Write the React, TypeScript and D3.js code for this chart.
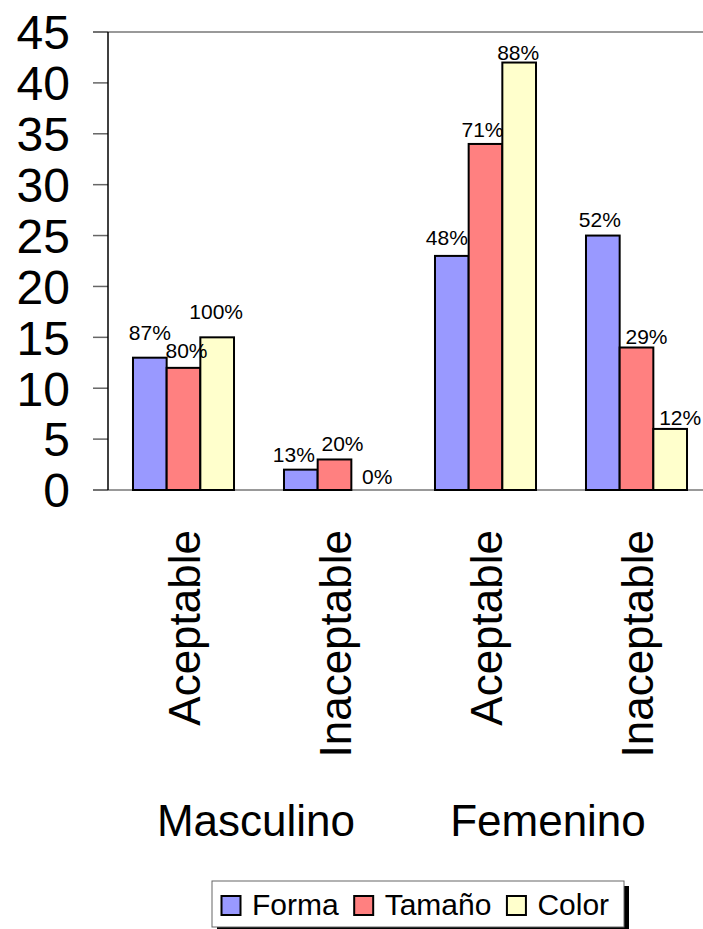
import React, { useRef, useEffect } from 'react';
import * as d3 from 'd3';

// categories (inner) and groups (outer)
const categories = ['Aceptable', 'Inaceptable', 'Aceptable', 'Inaceptable'];
const groups = ['Masculino', 'Femenino'];
const seriesNames = ['Forma', 'Tamaño', 'Color'];

// counts per category
const forma = [13, 2, 23, 25];
const tamano = [12, 3, 34, 14];
const color = [15, 0, 42, 6];

// percentage labels per category
const formaPct = [87, 13, 48, 52];
const tamanoPct = [80, 20, 71, 29];
const colorPct = [100, 0, 88, 12];

const yTicks = [0, 5, 10, 15, 20, 25, 30, 35, 40, 45];

const seriesValues = [forma, tamano, color];
const seriesPct = [formaPct, tamanoPct, colorPct];
const seriesColors = ['#9999FF', '#FF8080', '#FFFFCC'];

// hand placement of the percent labels, like Excel left them: [dx, gap above bar]
const labelNudge = [
  [[0, 18], [-7, 8], [-5, 11], [-3, 9]],
  [[3, 10], [8, 8], [-3, 7], [10, 4]],
  [[-1, 18], [9, 6], [-1, 3], [10, 4]],
];
const groupNudge = [-3, -13];

const FONT = '"Liberation Sans", Arial, Helvetica, sans-serif';

const App: React.FC = () => {
  const svgRef = useRef<SVGSVGElement | null>(null);
  const width = 703;
  const height = 929;

  useEffect(() => {
    if (!svgRef.current) return;
    const svg = d3.select(svgRef.current);
    svg.selectAll('*').remove();

    const left = 108;
    const right = 712;
    const top = 32;
    const bottom = 490;

    const x = d3.scaleBand<number>()
      .domain(d3.range(categories.length))
      .range([left, right])
      .paddingInner(0.331)
      .paddingOuter(0.1655);

    const xs = d3.scaleBand<number>()
      .domain(d3.range(seriesNames.length))
      .range([0, x.bandwidth()]);

    const y = d3.scaleLinear().domain([0, 45]).range([bottom, top]);

    // plot frame: top border, baseline, ticks
    svg.append('line')
      .attr('x1', left - 15).attr('x2', width)
      .attr('y1', y(45)).attr('y2', y(45))
      .attr('stroke', '#777').attr('stroke-width', 1.5);
    svg.append('line')
      .attr('x1', left - 15).attr('x2', width)
      .attr('y1', y(0)).attr('y2', y(0))
      .attr('stroke', '#777').attr('stroke-width', 1.5);

    svg.append('g')
      .selectAll('line')
      .data(yTicks)
      .join('line')
      .attr('x1', left - 15).attr('x2', left)
      .attr('y1', d => y(d)).attr('y2', d => y(d))
      .attr('stroke', '#666').attr('stroke-width', 1.5);

    svg.append('g')
      .selectAll('text')
      .data(yTicks)
      .join('text')
      .attr('x', 70)
      .attr('y', d => y(d))
      .attr('dy', '0.36em')
      .attr('text-anchor', 'end')
      .attr('font-family', FONT)
      .attr('font-size', 48)
      .text(d => d);

    // bars
    seriesValues.forEach((vals, s) => {
      svg.append('g')
        .selectAll('rect')
        .data(vals)
        .join('rect')
        .attr('x', (_, i) => (x(i) as number) + (xs(s) as number))
        .attr('y', d => y(d))
        .attr('width', xs.bandwidth())
        .attr('height', d => y(0) - y(d))
        .attr('fill', seriesColors[s])
        .attr('stroke', d => (d > 0 ? '#000' : 'none'))
        .attr('stroke-width', 2);
    });

    // y axis line
    svg.append('line')
      .attr('x1', left).attr('x2', left)
      .attr('y1', y(45)).attr('y2', y(0))
      .attr('stroke', '#000').attr('stroke-width', 1.5);

    // percent labels
    seriesPct.forEach((pcts, s) => {
      svg.append('g')
        .selectAll('text')
        .data(pcts)
        .join('text')
        .attr('x', (_, i) => (x(i) as number) + (xs(s) as number) + xs.bandwidth() / 2 + labelNudge[s][i][0])
        .attr('y', (_, i) => y(seriesValues[s][i]) - labelNudge[s][i][1])
        .attr('text-anchor', 'middle')
        .attr('font-family', FONT)
        .attr('font-size', 21)
        .text(d => `${d}%`);
    });

    // category labels (rotated)
    svg.append('g')
      .selectAll('text')
      .data(categories)
      .join('text')
      .attr('transform', (_, i) => `translate(${(x(i) as number) + x.bandwidth() / 2},530) rotate(-90)`)
      .attr('dy', '0.37em')
      .attr('text-anchor', 'end')
      .attr('font-family', FONT)
      .attr('font-size', 44)
      .text(d => d);

    // group labels
    svg.append('g')
      .selectAll('text')
      .data(groups)
      .join('text')
      .attr('x', (_, g) => {
        const a = (x(g * 2) as number) + x.bandwidth() / 2;
        const b = (x(g * 2 + 1) as number) + x.bandwidth() / 2;
        return (a + b) / 2 + groupNudge[g];
      })
      .attr('y', 836)
      .attr('text-anchor', 'middle')
      .attr('font-family', FONT)
      .attr('font-size', 44)
      .text(d => d);

    // legend
    const lg = svg.append('g');
    const boxX = 212;
    const boxY = 881;
    const boxW = 412;
    const boxH = 46;
    lg.append('rect')
      .attr('x', boxX + 5).attr('y', boxY + 5)
      .attr('width', boxW).attr('height', boxH)
      .attr('fill', '#000');
    lg.append('rect')
      .attr('x', boxX).attr('y', boxY)
      .attr('width', boxW).attr('height', boxH)
      .attr('fill', '#fff')
      .attr('stroke', '#666').attr('stroke-width', 1);

    let cursor = boxX + 9.5;
    seriesNames.forEach((name, s) => {
      lg.append('rect')
        .attr('x', cursor).attr('y', 896)
        .attr('width', 19).attr('height', 19)
        .attr('fill', seriesColors[s])
        .attr('stroke', '#000').attr('stroke-width', 2);
      const t = lg.append('text')
        .attr('x', cursor + 30.5)
        .attr('y', 915)
        .attr('font-family', FONT)
        .attr('font-size', 30)
        .text(name);
      const w = (t.node() as SVGTextElement).getComputedTextLength();
      cursor = cursor + 30.5 + w + 15.5;
    });
  }, []);

  return (
    <svg
      ref={svgRef}
      width={width}
      height={height}
      style={{ position: 'absolute', left: 0, top: 0, background: '#fff' }}
    />
  );
};

export default App;
